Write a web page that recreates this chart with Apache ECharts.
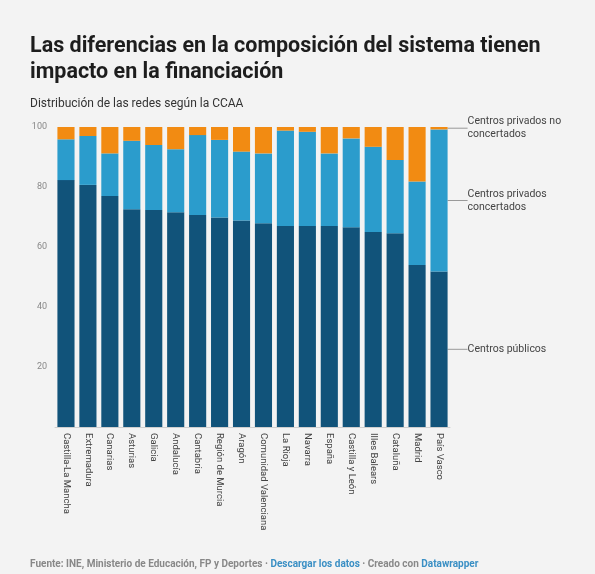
<!DOCTYPE html>
<html><head><meta charset="utf-8">
<script src="https://cdn.jsdelivr.net/npm/echarts@6/dist/echarts.min.js"></script>
<style>
html,body{margin:0;padding:0;background:#f3f3f3;}
#c{width:595px;height:574px;}
</style></head><body><div id="c"></div>
<script>
const categories = ["Castilla-La Mancha","Extremadura","Canarias","Asturias","Galicia","Andalucía","Cantabria","Región de Murcia","Aragón","Comunidad Valenciana","La Rioja","Navarra","España","Castilla y León","Illes Balears","Cataluña","Madrid","País Vasco"];
const publicos =     [82.3, 80.7, 77.0, 72.6, 72.3, 71.6, 70.7, 69.8, 68.8, 67.9, 67.0, 67.0, 67.0, 66.6, 65.0, 64.6, 54.0, 51.8];
const concertados =  [13.6, 16.3, 14.2, 22.8, 21.7, 21.0, 26.6, 25.9, 23.0, 23.3, 31.8, 31.4, 24.2, 29.6, 28.4, 24.4, 27.8, 47.4];
const noConcertados =[4.1, 3.0, 8.8, 4.6, 6.0, 7.4, 2.7, 4.3, 8.2, 8.8, 1.2, 1.6, 8.8, 3.8, 6.6, 11.0, 18.2, 0.8];
const yTicks = [0, 20, 40, 60, 80, 100];
const seriesNames = ["Centros públicos", "Centros privados\nconcertados", "Centros privados no\nconcertados"];
const colors = ["#11537a", "#2b9ccc", "#f28b12"];

const chart = echarts.init(document.getElementById('c'), null, {renderer:'canvas'});
function mk(name, values, color){
  const last = values.length - 1;
  return {
    name: name, type: 'bar', stack: 'total', barWidth: '78%',
    itemStyle: {color: color},
    data: values.map((v, i) => i === last ? {
      value: v,
      label: {show: true, position: 'right', distance: 20, formatter: name,
        color: '#444', fontSize: 10.5, lineHeight: 13, fontFamily: 'Roboto', align: 'left'},
      labelLine: {show: true, lineStyle: {color: '#999', width: 1}}
    } : v),
    labelLayout: {dx: 0},
    emphasis: {disabled: true}
  };
}
chart.setOption({
  backgroundColor: '#f3f3f3',
  animation: false,
  title: [
    {text: 'Las diferencias en la composición del sistema tienen\nimpacto en la financiación', left: 25, top: 29,
     textStyle: {fontFamily: 'Roboto', fontWeight: 'bold', fontSize: 21.5, lineHeight: 26, color: '#1d1d1d'}},
    {text: 'Distribución de las redes según la CCAA', left: 25, top: 93,
     textStyle: {fontFamily: 'Roboto', fontWeight: 'normal', fontSize: 12, color: '#333'}},
    {text: '{g|Fuente: INE, Ministerio de Educación, FP y Deportes · }{b|Descargar los datos}{g| · Creado con }{b|Datawrapper}',
     left: 25, top: 554,
     textStyle: {rich: {g: {fontFamily: 'Roboto', fontSize: 10, color: '#888'}, b: {fontFamily: 'Roboto', fontSize: 10, color: '#3a8fc4'}}}}
  ],
  grid: {left: 55, right: 145, top: 127, bottom: 147},
  xAxis: {
    type: 'category', data: categories,
    axisLine: {show: true, lineStyle: {color: '#cfcfcf'}},
    axisTick: {show: false},
    axisLabel: {rotate: -90, interval: 0, fontSize: 9.5, color: '#444', fontFamily: 'Roboto', margin: 6}
  },
  yAxis: {
    type: 'value', min: yTicks[0], max: yTicks[yTicks.length-1], interval: 20,
    axisLine: {show: false}, axisTick: {show: false},
    splitLine: {show: false},
    axisLabel: {fontSize: 9, color: '#888', fontFamily: 'Roboto', margin: 8,
      formatter: v => v === 0 ? '' : String(v)}
  },
  series: [mk(seriesNames[0], publicos, colors[0]), mk(seriesNames[1], concertados, colors[1]), mk(seriesNames[2], noConcertados, colors[2])]
});
</script></body></html>
